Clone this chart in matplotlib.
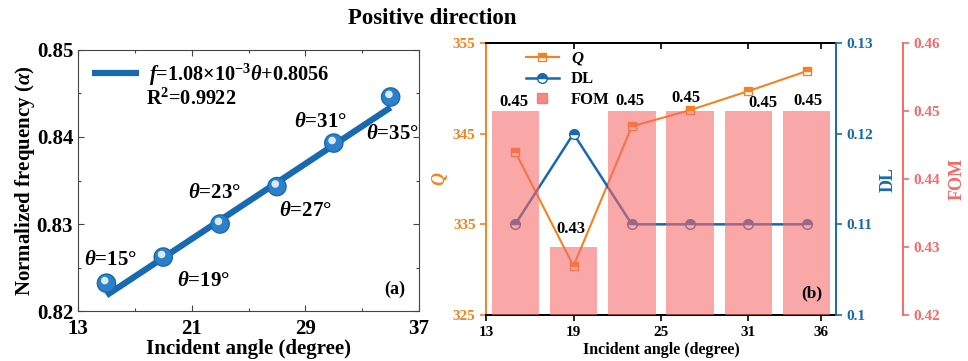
import matplotlib
matplotlib.use("Agg")
import matplotlib.pyplot as plt
from matplotlib.lines import Line2D
import numpy as np

plt.rcParams["font.family"] = ["Liberation Serif", "DejaVu Serif"]
plt.rcParams["font.weight"] = "bold"
plt.rcParams["mathtext.fontset"] = "custom"
plt.rcParams["mathtext.rm"] = "Liberation Serif:bold"
plt.rcParams["mathtext.it"] = "Liberation Serif:italic:bold"
plt.rcParams["mathtext.bf"] = "Liberation Serif:bold"

# ---- data ----
angles = [15, 19, 23, 27, 31, 35]
norm_freq = [0.8232, 0.8262, 0.8300, 0.8343, 0.8393, 0.8446]
fit_slope = 1.08e-3
fit_intercept = 0.8056
r_squared = 0.9922
angle_labels = ["15", "19", "23", "27", "31", "35"]

q_values = [343.0, 330.4, 345.8, 347.6, 349.7, 351.9]
dl_values = [0.11, 0.12, 0.11, 0.11, 0.11, 0.11]
fom_values = [0.45, 0.43, 0.45, 0.45, 0.45, 0.45]

BLUE = "#1769B0"
ORANGE = "#F5821F"
SALMON = "#F86868"

fig = plt.figure(figsize=(9.68, 3.61), dpi=100)
fig.text(0.447, 0.950, "Positive direction", ha="center", va="center",
         fontsize=16.5, fontweight="bold")

# ---- (a) normalized frequency vs incident angle ----
ax1 = fig.add_axes([0.0806, 0.1385, 0.3523, 0.7230])
fit_x = np.array([angles[0], angles[-1]])
fit_y = fit_slope * fit_x + fit_intercept
ax1.plot(fit_x, fit_y, color=BLUE, lw=4.5, solid_capstyle="butt", zorder=2,
         label=r"$f$=1.08×10$^{-3}$$\theta$+0.8056")
ax1.scatter(angles, norm_freq, s=200, color=BLUE, edgecolors="none", zorder=3)
ax1.scatter(angles, norm_freq, s=150, color="#2C80C8", edgecolors="none", zorder=4)
ax1.scatter(np.array(angles) - 0.12, np.array(norm_freq) + 0.0003, s=30,
            color="#D8EAF8", edgecolors="none", zorder=5)

label_offsets = [(0.25, 0.0027), (2.8, -0.0028), (-0.42, 0.0036),
                 (2.0, -0.0028), (-0.96, 0.0024), (0.1, -0.0043)]
for a, f, lab, (dx, dy) in zip(angles, norm_freq, angle_labels, label_offsets):
    ax1.text(a + dx, f + dy, r"$\theta$=" + lab + "°", fontsize=15,
             fontweight="bold", ha="center", va="center")

ax1.set_xlim(13, 37)
ax1.set_ylim(0.82, 0.85)
ax1.set_xticks([13, 21, 29, 37])
ax1.set_xticks([17, 25, 33], minor=True)
ax1.set_yticks([0.82, 0.83, 0.84, 0.85])
ax1.set_yticks([0.825, 0.835, 0.845], minor=True)
ax1.set_yticklabels(["0.82", "0.83", "0.84", "0.85"])
ax1.tick_params(axis="both", which="both", direction="in", top=True, right=True,
                labelsize=15, width=0.8, color="#444444")
ax1.tick_params(which="major", length=4)
ax1.tick_params(which="minor", length=2.5)
ax1.tick_params(axis="x", which="major", pad=6)
for sp in ax1.spines.values():
    sp.set_color("#444444")
    sp.set_linewidth(0.8)
ax1.set_xlabel("Incident angle (degree)", fontsize=15, fontweight="bold", labelpad=0)
ax1.set_ylabel(r"Normalized frequency ($\alpha$)", fontsize=15, fontweight="bold",
               labelpad=0)
ax1.legend(loc="upper left", frameon=False, fontsize=14.6, handlelength=2.3,
           borderaxespad=0.3, handletextpad=0.5, bbox_to_anchor=(0.0, 1.01))
ax1.text(0.198, 0.81, "R$^2$=" + f"{r_squared:.4f}", transform=ax1.transAxes,
         fontsize=14.6, fontweight="bold", ha="left", va="center")
ax1.text(0.96, 0.05, "(a)", transform=ax1.transAxes, fontsize=13,
         fontweight="bold", ha="right", va="bottom")

# ---- (b) Q, DL and FOM vs incident angle ----
ax_q = fig.add_axes([0.5021, 0.1274, 0.3615, 0.7535])
ax_dl = ax_q.twinx()
ax_fom = ax_q.twinx()

ax_q.plot(angles, q_values, color=ORANGE, lw=1.5, marker="s", ms=6,
          fillstyle="top", markerfacecoloralt="white", mec=ORANGE, mew=1.0,
          zorder=2)
ax_dl.plot(angles, dl_values, color=BLUE, lw=1.8, marker="o", ms=7,
           fillstyle="top", markerfacecoloralt="white", mec=BLUE, mew=1.0,
           zorder=2)
ax_fom.bar(angles, [v - 0.42 for v in fom_values], bottom=0.42, width=3.25,
           color=SALMON, alpha=0.58, zorder=3)

bar_label_offsets = [(-0.1, 0.00137), (-0.2, 0.00265), (-0.1, 0.00147),
                     (-0.3, 0.00187), (1.0, 0.00113), (0.1, 0.00147)]
for a, v, (dx, dy) in zip(angles, fom_values, bar_label_offsets):
    ax_fom.text(a + dx, v + dy, f"{v:.2f}", fontsize=12, fontweight="bold",
                ha="center", va="center", zorder=4)

ax_q.set_xlim(13, 37)
ax_q.set_xticks([13, 19, 25, 31, 36])
ax_q.set_ylim(325, 355)
ax_q.set_yticks([325, 335, 345, 355])
ax_dl.set_ylim(0.10, 0.13)
ax_dl.set_yticks([0.10, 0.11, 0.12, 0.13])
ax_dl.set_yticklabels(["0.1", "0.11", "0.12", "0.13"])
ax_fom.set_ylim(0.42, 0.46)
ax_fom.set_yticks([0.42, 0.43, 0.44, 0.45, 0.46])
ax_fom.set_yticklabels(["0.42", "0.43", "0.44", "0.45", "0.46"])

# layering: bars over the lines, both twins transparent
ax_q.set_zorder(0)
ax_dl.set_zorder(1)
ax_fom.set_zorder(2)
for a in (ax_dl, ax_fom):
    a.patch.set_visible(False)

ax_q.tick_params(axis="x", which="both", direction="out", length=4,
                 labelsize=11, width=1.2, pad=4)
top_ax = ax_q.secondary_xaxis("top")
top_ax.set_xticks([13, 19, 25, 31, 36])
top_ax.tick_params(axis="x", direction="in", length=4, width=1.2, labeltop=False)
top_ax.spines["top"].set_linewidth(1.4)
ax_q.tick_params(axis="y", colors=ORANGE, labelsize=11, length=4, width=1.2)
ax_dl.tick_params(axis="y", colors=BLUE, labelsize=11, length=4, width=1.2)
ax_fom.tick_params(axis="y", colors=SALMON, labelsize=11, length=4, width=1.2)

ax_fom.spines["right"].set_position(("axes", 1.191))
for a in (ax_q, ax_dl, ax_fom):
    for sp in a.spines.values():
        sp.set_linewidth(1.4)
ax_q.spines["left"].set_color(ORANGE)
ax_dl.spines["left"].set_visible(False)
ax_fom.spines["left"].set_visible(False)
ax_dl.spines["right"].set_color(BLUE)
ax_fom.spines["right"].set_color(SALMON)
ax_q.spines["right"].set_visible(False)
for a in (ax_dl, ax_fom):
    a.spines["top"].set_visible(False)
    a.spines["bottom"].set_visible(False)

ax_q.set_xlabel("Incident angle (degree)", fontsize=11.5, fontweight="bold",
                labelpad=2)
ax_q.set_ylabel(r"$Q$", fontsize=13, color=ORANGE, labelpad=2)
ax_dl.set_ylabel("DL", fontsize=13, color=BLUE, fontweight="bold", labelpad=5)
ax_fom.set_ylabel("FOM", fontsize=13, color=SALMON, fontweight="bold", labelpad=6)

ax_fom.text(0.96, 0.05, "(b)", transform=ax_fom.transAxes, fontsize=12.5,
            fontweight="bold", ha="right", va="bottom", zorder=5)

handles = [
    Line2D([], [], color=ORANGE, lw=1.5, marker="s", ms=6, fillstyle="top",
           markerfacecoloralt="white", mec=ORANGE),
    Line2D([], [], color=BLUE, lw=1.8, marker="o", ms=7, fillstyle="top",
           markerfacecoloralt="white", mec=BLUE),
    Line2D([], [], color=SALMON, alpha=0.8, lw=0, marker="s", ms=7),
]
ax_fom.legend(handles, [r"$Q$", "DL", "FOM"], loc="upper left", frameon=False,
              fontsize=12, handlelength=2.0, labelspacing=0.25,
              bbox_to_anchor=(0.085, 1.01), borderaxespad=0.2, handletextpad=0.7)

fig.savefig("out.png", dpi=100)
